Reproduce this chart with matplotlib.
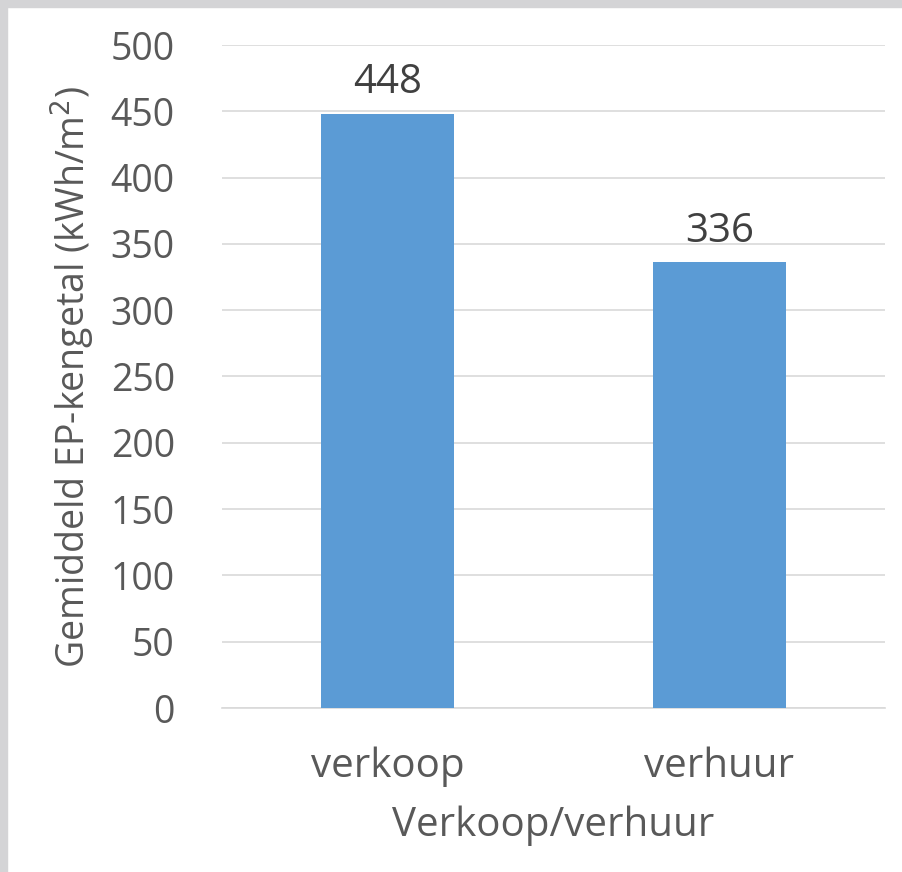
import matplotlib
matplotlib.use("Agg")
import matplotlib.pyplot as plt
from matplotlib.patches import Rectangle

# data
categories = ["verkoop", "verhuur"]
ep_values = [448, 336]
y_ticks = [0, 50, 100, 150, 200, 250, 300, 350, 400, 450, 500]

plt.rcParams['font.family'] = ['Open Sans', 'DejaVu Sans']

fig = plt.figure(figsize=(9.03, 8.72), dpi=100)
fig.patch.set_facecolor("white")

# grey frame on the left and top edges
fig.patches.append(Rectangle((0, 0), 7 / 903, 1, transform=fig.transFigure,
                             color="#d4d4d6", zorder=0))
fig.patches.append(Rectangle((0, 1 - 7 / 872), 1, 7 / 872, transform=fig.transFigure,
                             color="#d4d4d6", zorder=0))

ax = fig.add_axes([222 / 903, 1 - 708 / 872, (885 - 222) / 903, (708 - 45) / 872])

x = range(len(categories))
bars = ax.bar(x, ep_values, width=0.4, color="#5b9bd5", zorder=3)

for b, v in zip(bars, ep_values):
    ax.text(b.get_x() + b.get_width() / 2, v + 8, str(v), ha="center", va="bottom",
            fontsize=29, color="#404040")

ax.set_xlim(-0.5, 1.5)
ax.set_ylim(0, 500)
ax.set_yticks(y_ticks)
ax.set_xticks(list(x))
ax.set_xticklabels(categories)
ax.yaxis.grid(True, color="#d9d9d9", linewidth=1.2, zorder=0)
ax.set_axisbelow(True)
for s in ["top", "right", "left"]:
    ax.spines[s].set_visible(False)
ax.spines["bottom"].set_color("#d9d9d9")
ax.spines["bottom"].set_linewidth(1.2)
ax.tick_params(axis="both", length=0, labelcolor="#595959")
ax.tick_params(axis="y", pad=34, labelsize=27)
ax.tick_params(axis="x", pad=28, labelsize=29)

ax.set_ylabel("Gemiddeld EP-kengetal (kWh/m$^2$)", fontsize=27, color="#595959", labelpad=10)
ax.set_xlabel("Verkoop/verhuur", fontsize=29, color="#595959", labelpad=13)

fig.savefig("out.png", dpi=100)
